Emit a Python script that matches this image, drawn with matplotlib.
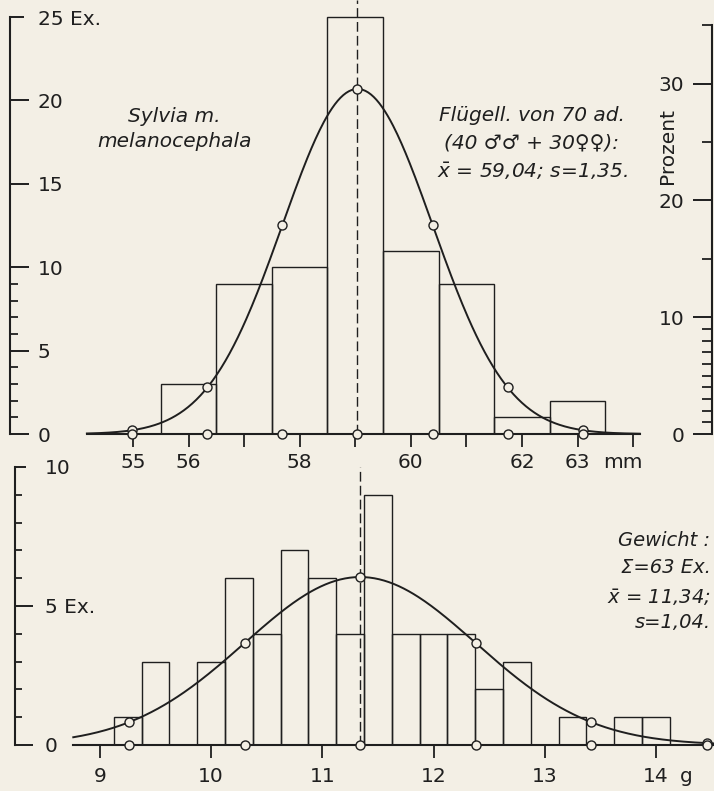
"""
Fluegellaenge und Gewicht von Sylvia m. melanocephala:
Histogramme mit angepasster Normalverteilung.
"""

import matplotlib.pyplot as plt
import matplotlib.transforms as mtransforms
import numpy as np

BG = "#f3efe5"
INK = "#1f1f1f"

# Fluegellaenge (mm): Klassenmitten und Anzahl Exemplare
WING_MM = [56, 57, 58, 59, 60, 61, 62, 63]
WING_N = [3, 9, 10, 25, 11, 9, 1, 2]
WING_MEAN = 59.04
WING_SD = 1.35
WING_TOTAL = 70
WING_CURVE = (54.17, 64.12)

WING_TICKS = [55, 56, 57, 58, 59, 60, 61, 62, 63, 64]
WING_TICKLABELS = ["55", "56", "", "58", "", "60", "", "62", "63", ""]
EX_TICKS = [0, 5, 10, 15, 20, 25]
EX_TICKLABELS = ["0", "5", "10", "15", "20", "25 Ex."]
PCT_TICKS = [0, 10, 20, 30]
PCT_MINOR = [1, 2, 3, 4, 5, 6, 7, 8, 9, 15, 25, 35]

# Gewicht (g): Klassen zu 0,25 g
WEIGHT_G = [9.25, 9.5, 9.75, 10.0, 10.25, 10.5, 10.75, 11.0, 11.25, 11.5,
            11.75, 12.0, 12.25, 12.5, 12.75, 13.0, 13.25, 13.5, 13.75, 14.0]
WEIGHT_N = [1, 3, 0, 3, 6, 4, 7, 6, 4, 9, 4, 4, 4, 2, 3, 0, 1, 0, 1, 1]
WEIGHT_MEAN = 11.34
WEIGHT_SD = 1.04
WEIGHT_TOTAL = 63
WEIGHT_BIN = 0.25
WEIGHT_CURVE = (8.76, 14.6)

G_TICKS = [9, 10, 11, 12, 13, 14]
G_EX_TICKS = [0, 5, 10]
G_EX_TICKLABELS = ["0", "5 Ex.", "10"]

plt.rcParams["font.family"] = ["DejaVu Sans"]
plt.rcParams["font.size"] = 14.5
plt.rcParams["mathtext.fontset"] = "dejavusans"


def normal_curve(mean, sd, total, binw, lo, hi):
    x = np.linspace(lo, hi, 400)
    y = total * binw / (sd * np.sqrt(2 * np.pi)) * np.exp(-0.5 * ((x - mean) / sd) ** 2)
    return x, y


def sigma_points(mean, sd, total, binw, lo, hi):
    xs = np.array([mean + k * sd for k in range(-3, 4)])
    xs = xs[(xs >= lo - 0.05) & (xs <= hi)]
    ys = total * binw / (sd * np.sqrt(2 * np.pi)) * np.exp(-0.5 * ((xs - mean) / sd) ** 2)
    return xs, ys


def draw_panel(ax, centers, counts, binw, mean, sd, total, curve_rng):
    ax.bar(centers, counts, width=binw, fill=False, edgecolor=INK, linewidth=1.0, zorder=2)
    cx, cy = normal_curve(mean, sd, total, binw, *curve_rng)
    ax.plot(cx, cy, color=INK, linewidth=1.4, zorder=3)
    px, py = sigma_points(mean, sd, total, binw, *curve_rng)
    style = dict(linestyle="none", marker="o", markersize=6.5, markerfacecolor=BG,
                 markeredgecolor=INK, markeredgewidth=1.0, zorder=5, clip_on=False)
    ax.plot(px, py, **style)
    ax.plot(px, np.zeros_like(px), **style)


fig = plt.figure(figsize=(7.14, 7.91), dpi=100, facecolor=BG)

# ---- oben: Fluegellaenge ----
ax = fig.add_axes([10 / 714, 357 / 791, 702 / 714, 434 / 791])
ax.set_facecolor("none")
draw_panel(ax, WING_MM, WING_N, 1.0, WING_MEAN, WING_SD, WING_TOTAL, WING_CURVE)
ax.axvline(WING_MEAN, color=INK, linewidth=1.0, dashes=(7, 3), zorder=1)
ax.set_xlim(52.786, 65.42)
ax.set_ylim(0, 26.02)

for side in ("top", "right"):
    ax.spines[side].set_visible(False)
ax.spines["left"].set_bounds(0, 25)
ax.spines["bottom"].set_bounds(*WING_CURVE)
for side in ("left", "bottom"):
    ax.spines[side].set_linewidth(1.5)
    ax.spines[side].set_color(INK)

ax.set_xticks(WING_TICKS)
ax.set_xticklabels(WING_TICKLABELS)
ax.tick_params(axis="x", direction="out", length=9.5, width=1.3, pad=4.5, colors=INK)
ax.set_yticks(EX_TICKS)
ax.set_yticklabels(EX_TICKLABELS)
ax.set_yticks([1, 2, 3, 4, 6, 7, 8, 9], minor=True)
ax.tick_params(axis="y", which="major", direction="in", length=14, width=1.4, pad=-20, colors=INK)
ax.tick_params(axis="y", which="minor", direction="in", length=6, width=1.3, colors=INK)
for t in ax.get_yticklabels():
    t.set_horizontalalignment("left")
ax.yaxis.get_major_ticks()[-1].tick1line.set_markersize(10)
ax.annotate("mm", xy=(63.82, 0), xytext=(0, -14), textcoords="offset points",
            ha="center", va="top", color=INK)

ax.text(55.74, 18.29, "Sylvia m.\nmelanocephala", style="italic", ha="center",
        va="center", linespacing=1.35, color=INK)
ax.text(62.18, 19.12, "Flügell. von 70 ad.", style="italic", ha="center", va="center", color=INK)
ax.text(62.18, 17.45, "(40 ♂♂ + 30♀♀):", style="italic", ha="center", va="center", color=INK)
ax.text(62.18, 15.71, r"$\bar{x}$ = 59,04; s=1,35.", style="italic", ha="center",
        va="center", color=INK)

# Prozentskala rechts
ax2 = ax.twinx()
ax2.set_ylim(0, 26.02 * 100 / WING_TOTAL)
for side in ("top", "left", "bottom"):
    ax2.spines[side].set_visible(False)
ax2.spines["right"].set_bounds(0, 35)
ax2.spines["right"].set_linewidth(1.5)
ax2.spines["right"].set_color(INK)
ax2.set_yticks(PCT_TICKS)
ax2.set_yticks(PCT_MINOR, minor=True)
ax2.tick_params(axis="y", which="major", direction="in", length=14, width=1.4, pad=-20, colors=INK)
ax2.tick_params(axis="y", which="minor", direction="in", length=7, width=1.3, colors=INK)
for t in ax2.get_yticklabels():
    t.set_horizontalalignment("right")
trans = mtransforms.blended_transform_factory(ax2.transAxes, ax2.transData)
ax2.text(0.936, 24.7, "Prozent", rotation=90, ha="center", va="center",
         transform=trans, color=INK)

# ---- unten: Gewicht ----
bx = fig.add_axes([15 / 714, 46 / 791, 699 / 714, 283.6 / 791])
bx.set_facecolor("none")
draw_panel(bx, WEIGHT_G, WEIGHT_N, WEIGHT_BIN, WEIGHT_MEAN, WEIGHT_SD, WEIGHT_TOTAL, WEIGHT_CURVE)
bx.vlines(WEIGHT_MEAN, 0, 10, color=INK, linewidth=1.0, linestyles=(0, (7, 3)), zorder=1)
bx.set_xlim(8.236, 14.522)
bx.set_ylim(0, 10.2)

for side in ("top", "right"):
    bx.spines[side].set_visible(False)
bx.spines["left"].set_bounds(0, 10)
bx.spines["bottom"].set_bounds(*WEIGHT_CURVE)
for side in ("left", "bottom"):
    bx.spines[side].set_linewidth(1.5)
    bx.spines[side].set_color(INK)

bx.set_xticks(G_TICKS)
bx.tick_params(axis="x", direction="out", length=9, width=1.3, pad=7, colors=INK)
bx.set_yticks(G_EX_TICKS)
bx.set_yticklabels(G_EX_TICKLABELS)
bx.set_yticks([1, 2, 3, 4, 6, 7, 8, 9], minor=True)
bx.tick_params(axis="y", which="major", direction="in", length=13, width=1.4, pad=-21.5, colors=INK)
bx.tick_params(axis="y", which="minor", direction="in", length=5, width=1.3, colors=INK)
for t in bx.get_yticklabels():
    t.set_horizontalalignment("left")
bx.yaxis.get_major_ticks()[-1].tick1line.set_markersize(8)
bx.annotate("g", xy=(14.27, 0), xytext=(0, -16), textcoords="offset points",
            ha="center", va="top", color=INK)

# Kennwerte rechts, buendig an den Bildrand
btrans = mtransforms.blended_transform_factory(bx.transAxes, bx.transData)
for y, label in [(7.37, "Gewicht :"), (6.37, "Σ=63 Ex."),
                 (5.32, r"$\bar{x}$ = 11,34;"), (4.39, "s=1,04.")]:
    bx.text(0.995, y, label, style="italic", ha="right", va="center",
            transform=btrans, color=INK, fontsize=14)

fig.savefig("out.png", dpi=100, facecolor=BG)
